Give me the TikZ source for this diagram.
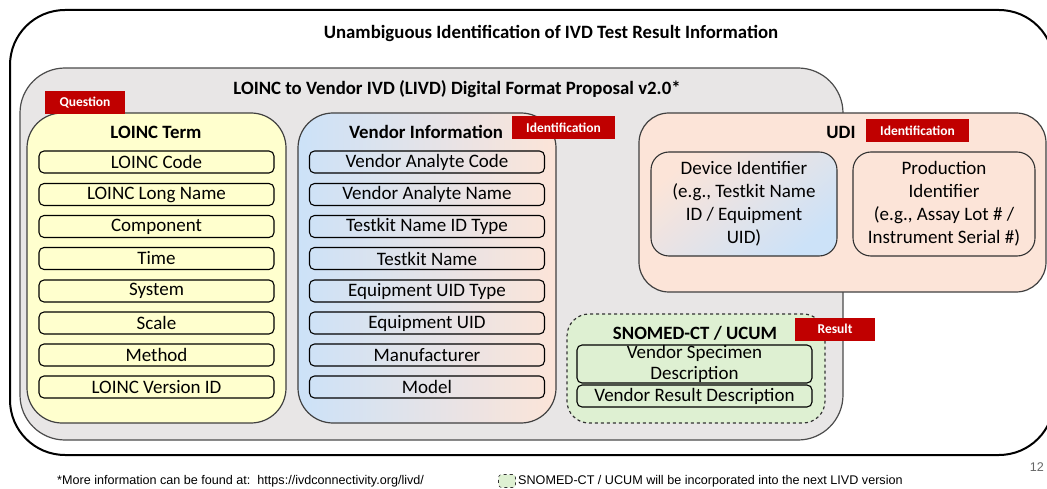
\documentclass[tikz,border=0pt]{standalone}
\usepackage{fontspec}
\setmainfont{Carlito}
\newfontfamily\arialf{Liberation Sans}
\definecolor{yelf}{RGB}{255,255,206}
\definecolor{grayf}{RGB}{232,230,230}
\definecolor{bluef}{RGB}{204,226,248}
\definecolor{peachf}{RGB}{252,228,216}
\definecolor{greenf}{RGB}{222,240,210}
\definecolor{redl}{RGB}{192,0,0}
\tikzset{
  container/.style={draw=black!75, line width=1.2pt, rounded corners=35pt, inner sep=0pt},
  item/.style={draw=black, line width=1.1pt, rounded corners=5pt, minimum width=235pt, minimum height=22pt, inner sep=0pt, font=\fontsize{19}{21}\selectfont},
  idbox/.style={draw=black!80, line width=1.1pt, rounded corners=18pt, minimum width=186pt, minimum height=104pt, inner sep=0pt, align=center, font=\fontsize{19}{23}\selectfont},
  redlbl/.style={fill=redl, text=white, font=\bfseries\fontsize{13.5}{14}\selectfont, inner sep=0pt, minimum height=23pt},
  ttl/.style={font=\bfseries\fontsize{18.8}{21}\selectfont, inner sep=0pt},
  foot/.style={font=\arialf\fontsize{12.6}{14}\selectfont, inner sep=0pt}
}
\begin{document}
\begin{tikzpicture}[x=1pt,y=-1pt]
\useasboundingbox (0,0) rectangle (1047,489);
\clip (0,0) rectangle (1047,489);
% outer
\draw[line width=2pt, rounded corners=55pt] (10,10) rectangle (1054,455);
\node[ttl] (maintitle) at (551,33) {Unambiguous Identification of IVD Test Result Information};
% LIVD gray box
\node[container, rounded corners=45pt, fill=grayf, draw=black!70, minimum width=823pt, minimum height=372pt] (livd) at (431.5,254) {};
\node[ttl] (livdtitle) at (457,89) {LOINC to Vendor IVD (LIVD) Digital Format Proposal v2.0*};
% LOINC term
\node[container, fill=yelf, minimum width=259pt, minimum height=310pt] (loinc) at (156.5,268) {};
\node[redlbl, minimum width=80pt] (qlbl) at (85,102.5) {Question};
\node[ttl] (loinctitle) at (156,132) {LOINC Term};
\node[item] (l1) at (156.5,162) {LOINC Code};
\node[item] (l2) at (156.5,194.5) {LOINC Long Name};
\node[item] (l3) at (156.5,226.5) {Component};
\node[item] (l4) at (156.5,258.5) {Time};
\node[item] (l5) at (156.5,291) {System};
\node[item] (l6) at (156.5,323) {Scale};
\node[item] (l7) at (156.5,355) {Method};
\node[item] (l8) at (156.5,387) {LOINC Version ID};
% Vendor information
\node[container, left color=bluef, right color=peachf, minimum width=258pt, minimum height=310pt] (vendor) at (427,268) {};
\node[ttl] (vendortitle) at (426,132) {Vendor Information};
\node[redlbl, minimum width=103pt] (idlbl1) at (563.5,127.5) {Identification};
\node[item] (v1) at (427,162) {Vendor Analyte Code};
\node[item] (v2) at (427,194.5) {Vendor Analyte Name};
\node[item] (v3) at (427,226.5) {Testkit Name ID Type};
\node[item] (v4) at (427,258.5) {Testkit Name};
\node[item] (v5) at (427,291) {Equipment UID Type};
\node[item] (v6) at (427,323) {Equipment UID};
\node[item] (v7) at (427,355) {Manufacturer};
\node[item] (v8) at (427,387) {Model};
% UDI
\node[container, rounded corners=30pt, fill=peachf, minimum width=407pt, minimum height=179pt] (udi) at (842.5,202.5) {};
\node[ttl] (uditle) at (841,132) {UDI};
\node[redlbl, minimum width=103pt] (idlbl2) at (917.5,131) {Identification};
\node[idbox, top color=peachf, bottom color=bluef, shading angle=40] (devid) at (744,204) {};
\node[align=center, font=\fontsize{19}{23}\selectfont, inner sep=0pt] (devidtxt) at (744,204) {Device Identifier\\(e.g., Testkit Name\\ID / Equipment\\UID)};
\node[idbox, fill=peachf, minimum width=182pt] (prodid) at (944,204) {Production\\Identifier\\(e.g., Assay Lot \# /\\Instrument Serial \#)};
% SNOMED
\node[container, dashed, rounded corners=22pt, fill=greenf, draw=black!80, minimum width=258pt, minimum height=109pt] (snomed) at (696,368.5) {};
\node[ttl] (snomedtitle) at (695,333) {SNOMED-CT / UCUM};
\node[redlbl, minimum width=80pt] (reslbl) at (835,329) {Result};
\node[item, minimum height=38pt, align=center, font=\fontsize{19}{21}\selectfont] (s1) at (694.5,364) {Vendor Specimen\\Description};
\node[item] (s2) at (694.5,396) {Vendor Result Description};
% footer
\node[foot, anchor=west] (foot1) at (57,481) {*More information can be found at:\ \ https://ivdconnectivity.org/livd/};
\node[draw=black!80, dashed, line width=0.6pt, fill=greenf, rounded corners=3pt, minimum width=17pt, minimum height=13pt, inner sep=0pt] (legbox) at (507,481) {};
\node[foot, anchor=west] (foot2) at (518,481) {SNOMED-CT / UCUM will be incorporated into the next LIVD version};
\node[foot, text=black!60, anchor=east] (pagenum) at (1044,467) {12};
\end{tikzpicture}
\end{document}
